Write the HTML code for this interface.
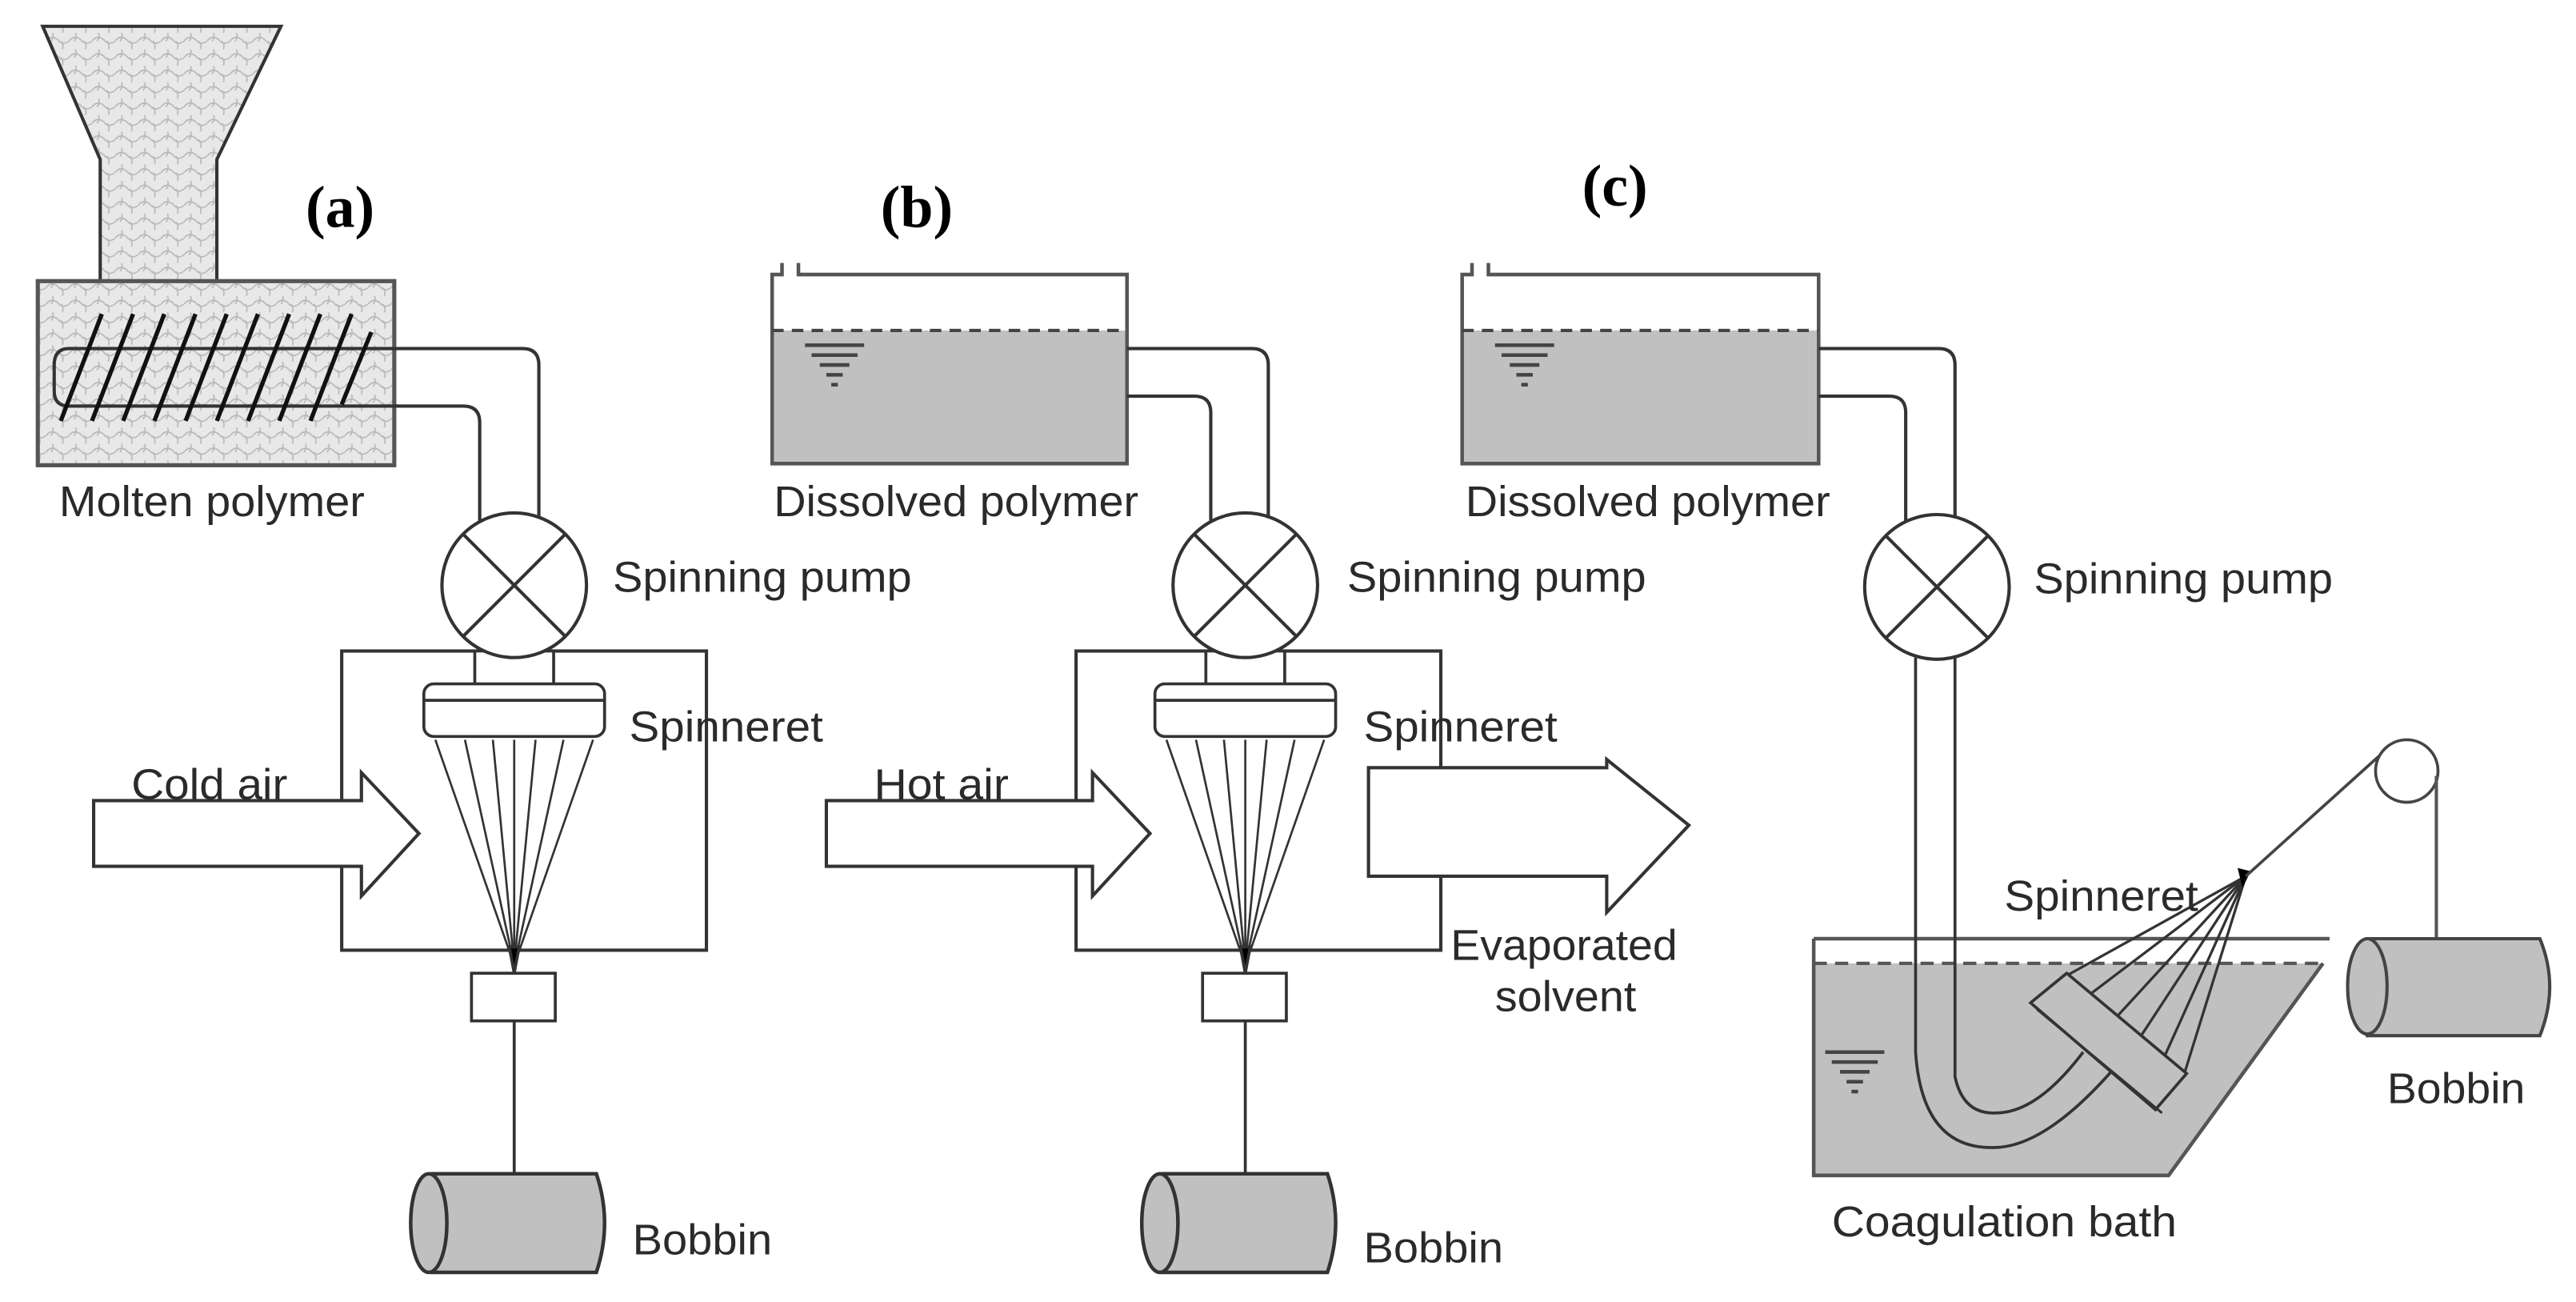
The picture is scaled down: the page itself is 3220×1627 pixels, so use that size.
<!DOCTYPE html>
<html><head><meta charset="utf-8"><style>
html,body{margin:0;padding:0;background:#fff;}
svg{display:block;}
text{font-family:"Liberation Sans",Arial,sans-serif;fill:#2a2a2a;font-size:26px;}
.t{font-family:"Liberation Serif",serif;font-weight:bold;font-size:36px;fill:#000;}
</style></head><body>
<svg width="3220" height="1627" viewBox="0 0 1568 792" preserveAspectRatio="none" xmlns="http://www.w3.org/2000/svg">
<defs>
<pattern id="pel" width="14" height="10" patternUnits="userSpaceOnUse">
<rect width="14" height="10" fill="#e8e8e8"/>
<path d="M0 5 Q3 1 7 4 Q10 8 14 5 M4 0 Q5 3 3 5 M10 10 Q11 7 9 5" stroke="#b8b8b8" stroke-width="0.8" fill="none"/>
</pattern>
<g id="lvl" stroke="#444" stroke-width="2.2">
<line x1="0" y1="0" x2="36" y2="0"/><line x1="4" y1="6" x2="32" y2="6"/><line x1="9" y1="12" x2="27" y2="12"/><line x1="13" y1="18" x2="23" y2="18"/><line x1="16" y1="24" x2="20" y2="24"/>
</g>
<g id="pump" fill="none" stroke="#333" stroke-width="2">
<circle cx="0" cy="0" r="44" fill="#fff"/>
<line x1="-31" y1="-31" x2="31" y2="31"/><line x1="31" y1="-31" x2="-31" y2="31"/>
</g>
<g id="spin" stroke="#333" stroke-width="1.8" fill="#fff">
<rect x="-24" y="40" width="48" height="22"/>
<rect x="-55" y="60" width="110" height="32" rx="6"/>
<line x1="-55" y1="70" x2="55" y2="70"/>
<g fill="none" stroke-width="1.3">
<line x1="-48" y1="94" x2="0" y2="231"/><line x1="-30" y1="94" x2="0" y2="231"/><line x1="-13" y1="94" x2="0" y2="231"/><line x1="0" y1="94" x2="0" y2="231"/><line x1="13" y1="94" x2="0" y2="231"/><line x1="30" y1="94" x2="0" y2="231"/><line x1="48" y1="94" x2="0" y2="231"/>
</g>
<path d="M-3 220 L3 220 L0 236 Z" fill="#000"/>
<rect x="-26" y="236" width="51" height="29"/>
<line x1="0" y1="265" x2="0" y2="358"/>
</g>
<g id="bob" stroke="#333" stroke-width="2.2" fill="#c0c0c0">
<path d="M-50 358 L50 358 Q60 388 50 418 L-50 418 Z"/>
<ellipse cx="-52" cy="388" rx="11" ry="30"/>
</g>
</defs>

<!-- (a) -->
<path d="M26 16 L171 16 L132 97 L132 172 L61 172 L61 97 Z" fill="url(#pel)" stroke="#333" stroke-width="2"/>
<rect x="23" y="171" width="217" height="112" fill="url(#pel)" stroke="#555" stroke-width="2.5"/>
<path d="M242 212 L42 212 Q33 212 33 222 L33 238 Q33 247 42 247 L242 247" fill="none" stroke="#333" stroke-width="2"/>
<g stroke="#111" stroke-width="2.6">
<line x1="37" y1="256" x2="62" y2="191"/><line x1="56" y1="256" x2="81" y2="191"/><line x1="75" y1="256" x2="100" y2="191"/><line x1="94" y1="256" x2="119" y2="191"/><line x1="113" y1="256" x2="138" y2="191"/><line x1="132" y1="256" x2="157" y2="191"/><line x1="151" y1="256" x2="176" y2="191"/><line x1="170" y1="256" x2="195" y2="191"/><line x1="189" y1="256" x2="214" y2="191"/><line x1="208" y1="246" x2="226" y2="202"/>
</g>
<path d="M240 212 L318 212 Q328 212 328 222 L328 318 M240 247 L282 247 Q292 247 292 257 L292 318" fill="none" stroke="#333" stroke-width="2"/>
<rect x="208" y="396" width="222" height="182" fill="none" stroke="#333" stroke-width="2"/>
<g transform="translate(313,356)"><use href="#spin"/><use href="#pump"/><use href="#bob"/></g>
<path d="M57 487 L220 487 L220 470 L255 507 L220 545 L220 527 L57 527 Z" fill="#fff" stroke="#333" stroke-width="2"/>
<text class="t" x="186" y="138">(a)</text>
<text x="36" y="314" textLength="186" lengthAdjust="spacingAndGlyphs">Molten polymer</text>
<text x="373" y="360" textLength="182" lengthAdjust="spacingAndGlyphs">Spinning pump</text>
<text x="383" y="451" textLength="118" lengthAdjust="spacingAndGlyphs">Spinneret</text>
<text x="80" y="486" textLength="95" lengthAdjust="spacingAndGlyphs">Cold air</text>
<text x="385" y="763" textLength="85" lengthAdjust="spacingAndGlyphs">Bobbin</text>

<!-- (b) -->
<rect x="470" y="201" width="216" height="81" fill="#c0c0c0"/>
<path d="M476 160 L476 167 L470 167 L470 282 L686 282 L686 167 L486 167 L486 160" fill="none" stroke="#555" stroke-width="2.2"/>
<line x1="470" y1="201" x2="686" y2="201" stroke="#444" stroke-width="2" stroke-dasharray="7,5"/>
<use href="#lvl" x="490" y="210"/>
<path d="M686 212 L762 212 Q772 212 772 222 L772 318 M686 241 L727 241 Q737 241 737 251 L737 318" fill="none" stroke="#333" stroke-width="2"/>
<rect x="655" y="396" width="222" height="182" fill="none" stroke="#333" stroke-width="2"/>
<g transform="translate(758,356)"><use href="#spin"/><use href="#pump"/><use href="#bob"/></g>
<path d="M503 487 L665 487 L665 470 L700 507 L665 545 L665 527 L503 527 Z" fill="#fff" stroke="#333" stroke-width="2"/>
<path d="M833 467 L978 467 L978 462 L1028 502 L978 555 L978 533 L833 533 Z" fill="#fff" stroke="#333" stroke-width="2"/>
<text class="t" x="536" y="138">(b)</text>
<text x="471" y="314" textLength="222" lengthAdjust="spacingAndGlyphs">Dissolved polymer</text>
<text x="820" y="360" textLength="182" lengthAdjust="spacingAndGlyphs">Spinning pump</text>
<text x="830" y="451" textLength="118" lengthAdjust="spacingAndGlyphs">Spinneret</text>
<text x="532" y="486" textLength="82" lengthAdjust="spacingAndGlyphs">Hot air</text>
<text x="883" y="584" textLength="138" lengthAdjust="spacingAndGlyphs">Evaporated</text>
<text x="910" y="615" textLength="86" lengthAdjust="spacingAndGlyphs">solvent</text>
<text x="830" y="768" textLength="85" lengthAdjust="spacingAndGlyphs">Bobbin</text>

<!-- (c) -->
<rect x="890" y="201" width="217" height="81" fill="#c0c0c0"/>
<path d="M896 160 L896 167 L890 167 L890 282 L1107 282 L1107 167 L906 167 L906 160" fill="none" stroke="#555" stroke-width="2.2"/>
<line x1="890" y1="201" x2="1107" y2="201" stroke="#444" stroke-width="2" stroke-dasharray="7,5"/>
<use href="#lvl" x="910" y="210"/>
<path d="M1107 212 L1180 212 Q1190 212 1190 222 L1190 318 M1107 241 L1150 241 Q1160 241 1160 251 L1160 318" fill="none" stroke="#333" stroke-width="2"/>
<text class="t" x="963" y="125">(c)</text>
<text x="892" y="314" textLength="222" lengthAdjust="spacingAndGlyphs">Dissolved polymer</text>
<text x="1238" y="361" textLength="182" lengthAdjust="spacingAndGlyphs">Spinning pump</text>

<!-- bath -->
<path d="M1104 586 L1414 586 L1320 715 L1104 715 Z" fill="#c0c0c0"/>
<path d="M1104 571 L1418 571 M1104 571 L1104 715 L1320 715 L1414 586" fill="none" stroke="#555" stroke-width="2.2"/>
<line x1="1104" y1="586" x2="1414" y2="586" stroke="#555" stroke-width="2" stroke-dasharray="8,5"/>
<use href="#lvl" x="1111" y="640"/>
<path d="M1166 400 L1166 640 Q1170 700 1215 698 Q1245 697 1285 652 M1190 400 L1190 655 Q1195 678 1215 677 Q1240 677 1268 640" fill="none" stroke="#333" stroke-width="1.8"/>
<g stroke="#333" stroke-width="1.6" fill="none">
<line x1="1257" y1="594" x2="1367" y2="533"/><line x1="1272" y1="605" x2="1367" y2="533"/><line x1="1288" y1="619" x2="1367" y2="533"/><line x1="1302" y1="632" x2="1367" y2="533"/><line x1="1316" y1="646" x2="1367" y2="533"/><line x1="1329" y1="655" x2="1367" y2="533"/>
</g>
<path d="M1236 610 L1258 592 L1331 653 L1312 675 Z" fill="#c0c0c0" stroke="#333" stroke-width="1.8"/>
<line x1="1240" y1="614" x2="1316" y2="677" stroke="#333" stroke-width="1.5"/>
<path d="M1362 528 L1370 530 L1365 540 Z" fill="#000"/>
<line x1="1367" y1="533" x2="1448" y2="460" stroke="#444" stroke-width="1.8"/>
<circle cx="1465" cy="469" r="19" fill="#fff" stroke="#444" stroke-width="1.8"/>
<line x1="1483" y1="472" x2="1483" y2="571" stroke="#555" stroke-width="2"/>
<path d="M1441 571 L1546 571 Q1558 600 1546 630 L1441 630 Z" fill="#c0c0c0" stroke="#444" stroke-width="2"/>
<ellipse cx="1441" cy="600" rx="12" ry="29" fill="#c0c0c0" stroke="#444" stroke-width="2"/>
<g transform="translate(1179,357)"><use href="#pump"/></g>
<text x="1220" y="554" textLength="118" lengthAdjust="spacingAndGlyphs">Spinneret</text>
<text x="1453" y="671" textLength="84" lengthAdjust="spacingAndGlyphs">Bobbin</text>
<text x="1115" y="752" textLength="210" lengthAdjust="spacingAndGlyphs">Coagulation bath</text>
</svg>
</body></html>
